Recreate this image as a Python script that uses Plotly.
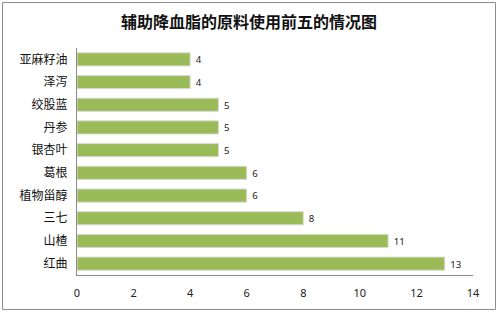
import plotly.graph_objects as go

categories = ["亚麻籽油", "泽泻", "绞股蓝", "丹参", "银杏叶", "葛根", "植物甾醇", "三七", "山楂", "红曲"]
values = [4, 4, 5, 5, 5, 6, 6, 8, 11, 13]
x_ticks = [0, 2, 4, 6, 8, 10, 12, 14]
title = "辅助降血脂的原料使用前五的情况图"

W, H = 498, 312
L, R, T, B = 77, 25, 48, 37
pw, ph = W - L - R, H - T - B

fig = go.Figure()
fig.add_trace(go.Bar(
    y=categories, x=values, orientation="h", width=0.58,
    marker=dict(color="#9BBB59", line=dict(color="#d9dcd2", width=1)),
    text=["\u00a0" + str(v) for v in values], textposition="outside",
    textfont=dict(family="Noto Sans, DejaVu Sans", size=11, color="#222"),
    cliponaxis=False,
))

fig.update_layout(
    width=W, height=H, margin=dict(l=L, r=R, t=T, b=B),
    paper_bgcolor="white", plot_bgcolor="white",
    showlegend=False,
    title=dict(text="<b>" + title + "</b>", x=0.5, xanchor="center", y=1 - 22 / H, yanchor="middle",
               font=dict(family="Noto Sans CJK SC", size=16, color="#111")),
    xaxis=dict(range=[0, 14], tickvals=x_ticks, showgrid=False, zeroline=False,
               showline=True, linecolor="#8c8c8c", linewidth=1, ticks="",
               tickfont=dict(family="Noto Sans, DejaVu Sans", size=11, color="#222"),
               ticklabelstandoff=8),
    yaxis=dict(autorange="reversed", showgrid=False, zeroline=False,
               showline=True, linecolor="#8c8c8c", linewidth=1, ticks="",
               tickfont=dict(family="Noto Sans CJK SC", size=12, color="#111"),
               ticklabelstandoff=6),
)

# outer chart border
fig.add_shape(type="rect", xref="paper", yref="paper",
              x0=(2.5 - L) / pw, x1=(495.5 - L) / pw,
              y0=(H - B - 309.5) / ph, y1=(H - B - 2.5) / ph,
              line=dict(color="#8c8c8c", width=1), fillcolor="rgba(0,0,0,0)", layer="above")

fig.write_html("out.html")
